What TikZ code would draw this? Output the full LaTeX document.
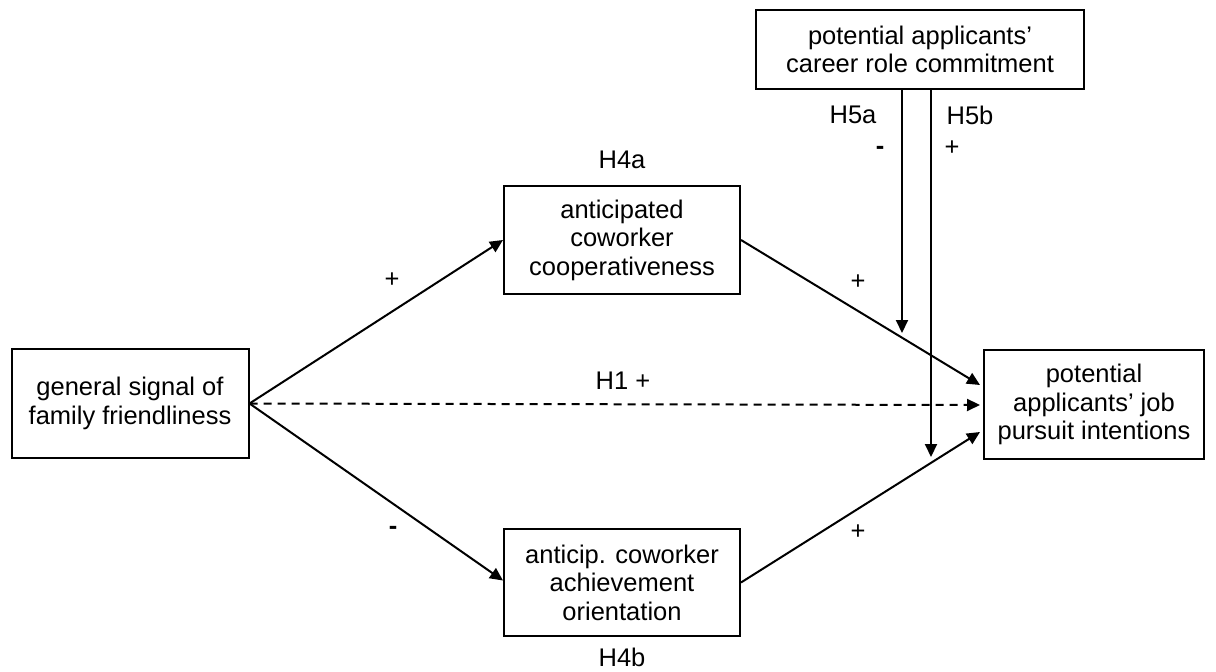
\documentclass[tikz,border=0pt]{standalone}
\usepackage{fontspec}
\setmainfont{Liberation Sans}
\usetikzlibrary{arrows.meta,calc}
\begin{document}
\begin{tikzpicture}[x=1pt,y=-1pt,
  box/.style={draw,line width=2pt,align=center,inner sep=0pt,
    font=\fontsize{25.5}{28.5}\selectfont},
  lbl/.style={font=\fontsize{25.5}{28.5}\selectfont,inner sep=0pt},
  neg/.style={lbl,font=\fontsize{25.5}{28.5}\selectfont\bfseries},
  link/.style={line width=2pt,-{Triangle[length=13pt,width=12pt]}},
]
\useasboundingbox (0,0) rectangle (1216,672);

% constructs
\node[box,minimum width=237pt,minimum height=109pt] (gen) at (130,403.5)
  {general signal of\\family friendliness};
\node[box,minimum width=236pt,minimum height=108pt] (coop) at (622,240)
  {anticipated\\coworker\\cooperativeness};
\node[box,minimum width=236pt,minimum height=107pt] (ach) at (622,582.5)
  {anticip. coworker\\achievement\\orientation};
\node[box,minimum width=220pt,minimum height=109pt] (job) at (1094,404.5)
  {potential\\applicants’ job\\pursuit intentions};
\node[box,minimum width=328pt,minimum height=79pt] (car) at (920,49.5)
  {potential applicants’\\career role commitment};

% moderator end points
\coordinate (m1) at (902,333);
\coordinate (m2) at (931,457);

% paths
\draw[link] (gen.east) -- (coop.west);
\draw[link] (gen.east) -- ($(ach.west)+(0,-2)$);
\draw[link,dash pattern=on 8pt off 6pt] (gen.east) -- ($(job.west)+(-3,0.5)$);
\draw[link] (coop.east) -- ($(job.west)+(-3,-19.5)$);
\draw[link] (ach.east) -- ($(job.west)+(-3,27.5)$);
\draw[link] (car.south -| m1) -- (m1);
\draw[link] (car.south -| m2) -- (m2);

% labels
\node[lbl] (l1) at (392,280) {+};
\node[neg] (l2) at (393,530) {-};
\node[lbl] (l3) at (623,381) {H1 +};
\node[lbl] (l4) at (858,282) {+};
\node[lbl] (l5) at (858,532) {+};
\node[lbl] (l6) at (622,160) {H4a};
\node[lbl] (l7) at (622,657) {H4b};
\node[lbl] (l8) at (853,115) {H5a};
\node[lbl] (l9) at (970,115) {H5b};
\node[neg] (l10) at (880,150) {-};
\node[lbl] (l11) at (952,148) {+};
\end{tikzpicture}
\end{document}
